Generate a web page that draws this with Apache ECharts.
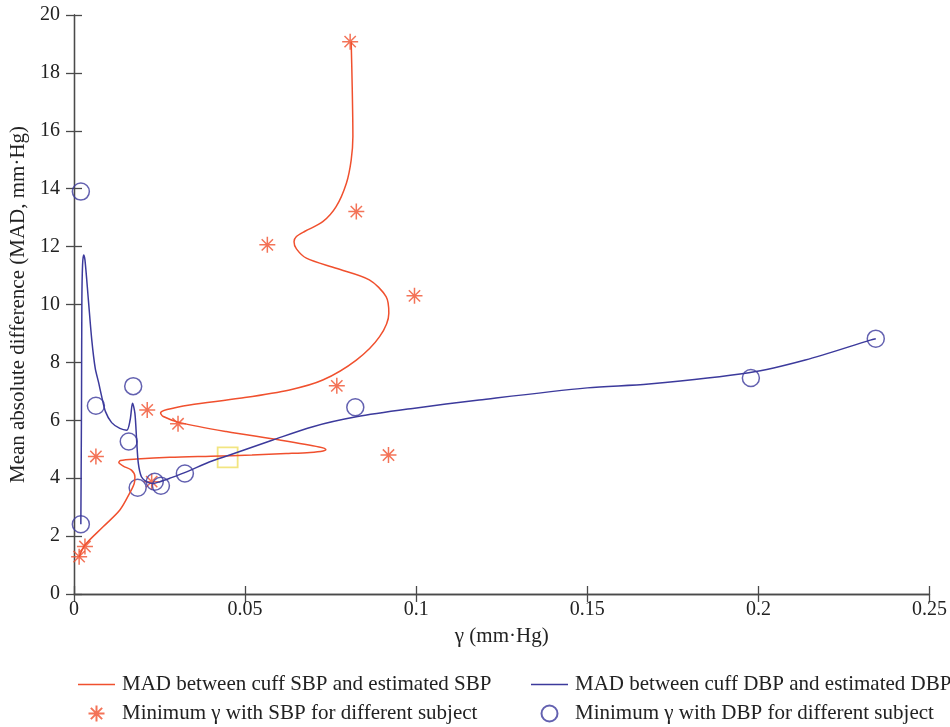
<!DOCTYPE html>
<html>
<head>
<meta charset="utf-8">
<script src="https://cdn.jsdelivr.net/npm/echarts@6/dist/echarts.min.js"></script>
<style>html,body{margin:0;padding:0;background:#fff;}#c{width:950px;height:727px;}</style>
</head>
<body>
<div id="c"></div>
<script>
// Axis ticks
const xTicks = [0, 0.05, 0.1, 0.15, 0.2, 0.25];
const yTicks = [0, 2, 4, 6, 8, 10, 12, 14, 16, 18, 20];

// MAD curve between cuff SBP and estimated SBP (traced, in drawing order)
const sbpCurve = [
  [0.0015, 1.28], [0.0032, 1.69], [0.0085, 2.32], [0.0134, 2.90], [0.0163, 3.49],
  [0.0176, 3.82], [0.0178, 4.05], [0.0168, 4.28], [0.0144, 4.42], [0.0131, 4.54],
  [0.0136, 4.61], [0.0183, 4.66], [0.0280, 4.72], [0.0400, 4.76], [0.0520, 4.80],
  [0.0620, 4.85], [0.0690, 4.89], [0.0728, 4.94], [0.0736, 4.99], [0.0716, 5.08],
  [0.0601, 5.32], [0.0445, 5.61], [0.0309, 5.92], [0.0261, 6.13], [0.0253, 6.25],
  [0.0272, 6.37], [0.0338, 6.53], [0.0484, 6.76], [0.0630, 7.05], [0.0727, 7.39],
  [0.0825, 8.08], [0.0893, 8.89], [0.0920, 9.70], [0.0912, 10.27], [0.0863, 10.85],
  [0.0766, 11.25], [0.0679, 11.60], [0.0650, 11.92], [0.0643, 12.17], [0.0650, 12.35],
  [0.0675, 12.53], [0.0727, 12.86], [0.0766, 13.38], [0.0796, 14.19], [0.0810, 14.99],
  [0.0815, 15.80], [0.0813, 17.52], [0.0810, 19.08]
];

// MAD curve between cuff DBP and estimated DBP (traced, in drawing order)
const dbpCurve = [
  [0.0020, 2.41], [0.0022, 6.70], [0.0023, 10.16], [0.0025, 11.36], [0.0028, 11.71],
  [0.0032, 11.54], [0.0042, 10.16], [0.0052, 8.77], [0.0062, 7.80], [0.0072, 7.30],
  [0.0081, 6.82], [0.0092, 6.30], [0.0110, 5.92], [0.0134, 5.72], [0.0154, 5.66],
  [0.0164, 6.01], [0.0171, 6.59], [0.0178, 6.24], [0.0183, 5.32], [0.0188, 4.51],
  [0.0197, 4.05], [0.0212, 3.88], [0.0231, 3.82], [0.0251, 3.88], [0.0280, 4.00],
  [0.0329, 4.22], [0.0397, 4.57], [0.0455, 4.80], [0.0581, 5.32], [0.0698, 5.78],
  [0.0825, 6.12], [0.0990, 6.41], [0.1184, 6.70], [0.1500, 7.12], [0.1680, 7.25],
  [0.1972, 7.64], [0.2137, 8.08], [0.2327, 8.77], [0.2343, 8.82]
];

// Minimum gamma with SBP for different subjects
const sbpMinX = [0.0807, 0.0825, 0.0565, 0.0995, 0.0768, 0.0214, 0.0304, 0.0919, 0.0064, 0.0227, 0.0032, 0.0015];
const sbpMinY = [19.08, 13.21, 12.06, 10.30, 7.19, 6.36, 5.88, 4.80, 4.75, 3.88, 1.64, 1.29];

// Minimum gamma with DBP for different subjects
const dbpMinX = [0.0020, 0.0020, 0.0064, 0.0173, 0.0160, 0.0186, 0.0236, 0.0254, 0.0324, 0.0822, 0.1978, 0.2343];
const dbpMinY = [13.90, 2.41, 6.50, 7.18, 5.27, 3.67, 3.88, 3.74, 4.16, 6.45, 7.46, 8.82];

// Highlight marker
const markerX = [0.0449];
const markerY = [4.72];

const RED = '#f0502e';
const BLUE = '#3c3a9c';
const FONT = '"Liberation Serif", "DejaVu Serif", serif';
const STAR = 'path://M0,-10L0,10M-10,0L10,0M-7.07,-7.07L7.07,7.07M-7.07,7.07L7.07,-7.07';
const LINE_ICON = 'path://M0,0M0,7.2L37,7.2L37,8.8L0,8.8ZM37,16';

const zip = (xs, ys) => xs.map((x, i) => [x, ys[i]]);

const chart = echarts.init(document.getElementById('c'), null, {renderer: 'canvas'});
const axisLine = {show: true, lineStyle: {color: '#4a4a4a', width: 1.3}};
const axisTick = {show: true, inside: true, length: 8, lineStyle: {color: '#4a4a4a', width: 1.3}};
const tickStyle = {color: '#222', fontFamily: FONT, fontSize: 20};
const nameStyle = {color: '#222', fontFamily: FONT, fontSize: 21};

const SBP_LINE = 'MAD between cuff SBP and estimated SBP';
const DBP_LINE = 'MAD between cuff DBP and estimated DBP';
const SBP_PT = 'Minimum γ with SBP for different subject';
const DBP_PT = 'Minimum γ with DBP for different subject';

const legendBase = {
  orient: 'vertical', bottom: -2, itemWidth: 37, itemHeight: 16, itemGap: 8,
  textStyle: Object.assign({padding: [0, 0, 0, 2], lineHeight: 21}, nameStyle)
};

chart.setOption({
  animation: false,
  backgroundColor: '#fff',
  grid: {left: 74, right: 19, top: 15, bottom: 133, containLabel: false},
  xAxis: [{
    type: 'value', min: xTicks[0], max: xTicks[xTicks.length - 1], interval: 0.05,
    position: 'bottom',
    axisLine, axisTick, splitLine: {show: false},
    axisLabel: Object.assign({margin: 6, formatter: v => String(+v.toFixed(2))}, tickStyle),
    name: 'γ (mm·Hg)', nameLocation: 'middle', nameGap: 32,
    nameTextStyle: nameStyle
  }, {
    type: 'value', min: xTicks[0], max: xTicks[xTicks.length - 1], interval: 0.05,
    position: 'top', axisLine, axisTick, axisLabel: {show: false}, splitLine: {show: false}
  }],
  yAxis: [{
    type: 'value', min: yTicks[0], max: yTicks[yTicks.length - 1], interval: 2,
    position: 'left',
    axisLine, axisTick, splitLine: {show: false},
    axisLabel: Object.assign({margin: 14}, tickStyle),
    name: 'Mean absolute difference (MAD, mm·Hg)', nameLocation: 'middle', nameGap: 43,
    nameTextStyle: nameStyle
  }, {
    type: 'value', min: yTicks[0], max: yTicks[yTicks.length - 1], interval: 2,
    position: 'right', axisLine, axisTick, axisLabel: {show: false}, splitLine: {show: false}
  }],
  legend: [Object.assign({
    left: 73,
    data: [{name: SBP_LINE, icon: LINE_ICON, itemStyle: {color: RED}}, {name: SBP_PT}]
  }, legendBase), Object.assign({
    left: 526,
    data: [{name: DBP_LINE, icon: LINE_ICON, itemStyle: {color: BLUE}}, {name: DBP_PT}]
  }, legendBase)],
  series: [{
    name: SBP_LINE, type: 'line',
    data: sbpCurve, smooth: 0.3, symbol: 'none',
    lineStyle: {color: RED, width: 1.5}, itemStyle: {color: RED}
  }, {
    name: DBP_LINE, type: 'line',
    data: dbpCurve, smooth: 0.3, symbol: 'none',
    lineStyle: {color: BLUE, width: 1.5}, itemStyle: {color: BLUE}
  }, {
    name: SBP_PT, type: 'scatter',
    data: zip(sbpMinX, sbpMinY), symbol: STAR, symbolSize: 16,
    itemStyle: {color: 'none', borderColor: RED, borderWidth: 1.5}
  }, {
    name: DBP_PT, type: 'scatter',
    data: zip(dbpMinX, dbpMinY), symbol: 'circle', symbolSize: 17,
    itemStyle: {color: 'rgba(0,0,0,0)', borderColor: BLUE, borderWidth: 1.5}
  }, {
    name: 'marker', type: 'scatter',
    data: zip(markerX, markerY), symbol: 'rect', symbolSize: 20,
    itemStyle: {color: 'rgba(0,0,0,0)', borderColor: '#efdf62', borderWidth: 1.8}
  }]
});
</script>
</body>
</html>
